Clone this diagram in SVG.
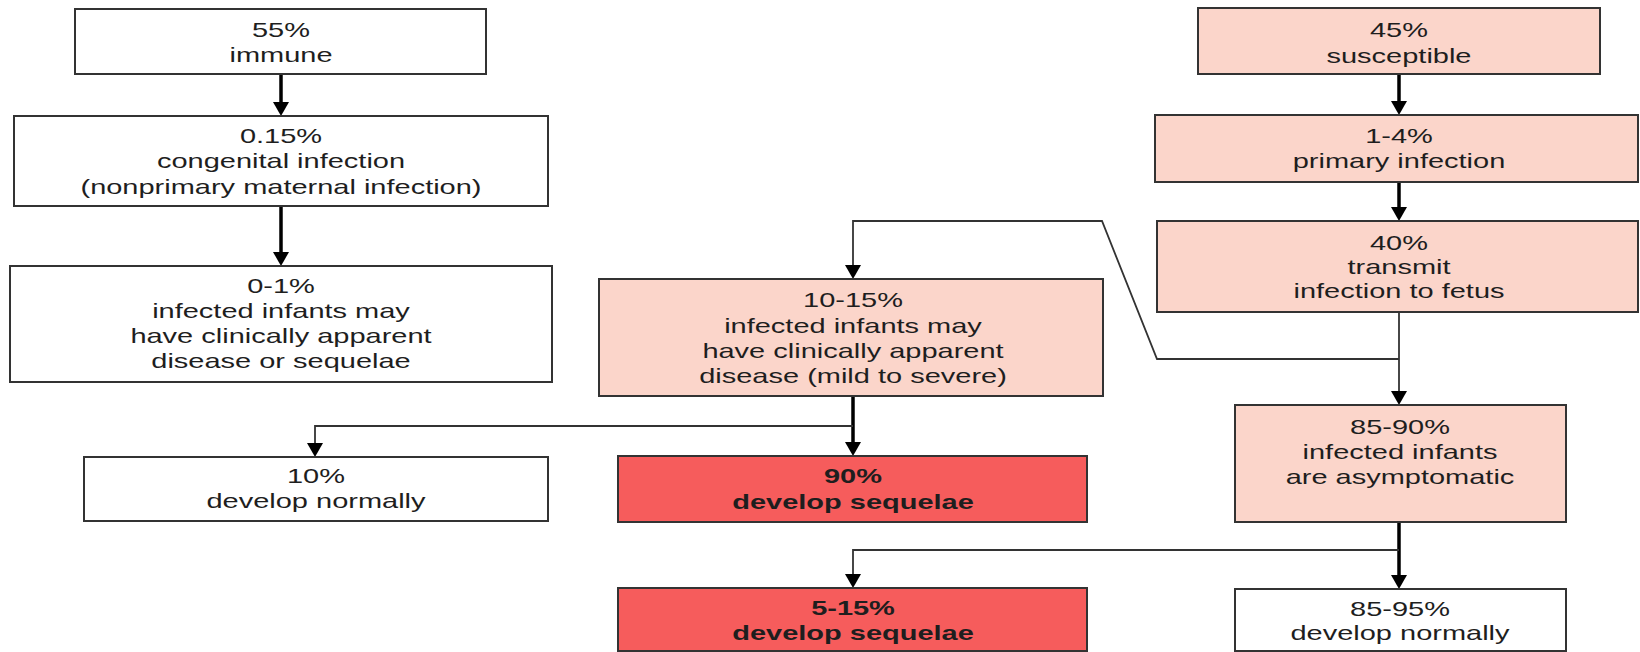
<svg xmlns="http://www.w3.org/2000/svg" width="1640" height="652" viewBox="0 0 1640 652">
<style>
.box{stroke:#333;stroke-width:2}
.w{fill:#ffffff}
.p{fill:#fbd5ca}
.r{fill:#f65c5c}
text{font-family:"Liberation Sans",Arial,sans-serif;font-size:20px;fill:#1e1e1e;text-anchor:middle}
.b text{font-weight:bold}
.thick{stroke:#000;stroke-width:3.5;fill:none}
.thin{stroke:#333;stroke-width:1.8;fill:none}
</style>
<defs>
<marker id="ah" viewBox="0 0 14 16" refX="8" refY="8" markerWidth="14" markerHeight="16" markerUnits="userSpaceOnUse" orient="auto">
<path d="M0,0 L14,8 L0,16 Z" fill="#000"/>
</marker>
</defs>
<rect width="1640" height="652" fill="#fff"/>

<g id="connectors">
<line class="thick" x1="281" y1="74" x2="281" y2="110" marker-end="url(#ah)"/>
<line class="thick" x1="281" y1="206" x2="281" y2="260" marker-end="url(#ah)"/>
<line class="thick" x1="1399" y1="74" x2="1399" y2="109" marker-end="url(#ah)"/>
<line class="thick" x1="1399" y1="182" x2="1399" y2="215" marker-end="url(#ah)"/>
<line class="thin" x1="1399" y1="312" x2="1399" y2="399" marker-end="url(#ah)"/>
<polyline class="thin" points="1399,359 1157,359 1102,221 853,221 853,273" marker-end="url(#ah)"/>
<line class="thick" x1="853" y1="396" x2="853" y2="450" marker-end="url(#ah)"/>
<polyline class="thin" points="853,426 315,426 315,451" marker-end="url(#ah)"/>
<line class="thick" x1="1399" y1="522" x2="1399" y2="583" marker-end="url(#ah)"/>
<polyline class="thin" points="1399,550 853,550 853,582" marker-end="url(#ah)"/>
</g>

<g id="immune">
<rect class="box w" x="75" y="9" width="411" height="65"/>
<g transform="translate(281,0) scale(1.45,1)"><text x="0" y="37">55%</text><text x="0" y="62">immune</text></g>
</g>

<g id="congenital">
<rect class="box w" x="14" y="116" width="534" height="90"/>
<g transform="translate(281,0) scale(1.45,1)"><text x="0" y="143">0.15%</text><text x="0" y="168">congenital infection</text><text x="0" y="194">(nonprimary maternal infection)</text></g>
</g>

<g id="nonprimary-outcome">
<rect class="box w" x="10" y="266" width="542" height="116"/>
<g transform="translate(281,0) scale(1.45,1)"><text x="0" y="293">0-1%</text><text x="0" y="318">infected infants may</text><text x="0" y="343">have clinically apparent</text><text x="0" y="368">disease or sequelae</text></g>
</g>

<g id="develop-normally-10">
<rect class="box w" x="84" y="457" width="464" height="64"/>
<g transform="translate(316,0) scale(1.45,1)"><text x="0" y="483">10%</text><text x="0" y="508">develop normally</text></g>
</g>

<g id="susceptible">
<rect class="box p" x="1198" y="8" width="402" height="66"/>
<g transform="translate(1399,0) scale(1.45,1)"><text x="0" y="37">45%</text><text x="0" y="63">susceptible</text></g>
</g>

<g id="primary-infection">
<rect class="box p" x="1155" y="115" width="483" height="67"/>
<g transform="translate(1399,0) scale(1.45,1)"><text x="0" y="143">1-4%</text><text x="0" y="168">primary infection</text></g>
</g>

<g id="transmit">
<rect class="box p" x="1157" y="221" width="481" height="91"/>
<g transform="translate(1399,0) scale(1.45,1)"><text x="0" y="250">40%</text><text x="0" y="274">transmit</text><text x="0" y="298">infection to fetus</text></g>
</g>

<g id="symptomatic">
<rect class="box p" x="599" y="279" width="504" height="117"/>
<g transform="translate(853,0) scale(1.45,1)"><text x="0" y="307">10-15%</text><text x="0" y="333">infected infants may</text><text x="0" y="358">have clinically apparent</text><text x="0" y="383">disease (mild to severe)</text></g>
</g>

<g id="sequelae-90" class="b">
<rect class="box r" x="618" y="456" width="469" height="66"/>
<g transform="translate(853,0) scale(1.45,1)"><text x="0" y="483">90%</text><text x="0" y="509">develop sequelae</text></g>
</g>

<g id="asymptomatic">
<rect class="box p" x="1235" y="405" width="331" height="117"/>
<g transform="translate(1400,0) scale(1.45,1)"><text x="0" y="434">85-90%</text><text x="0" y="459">infected infants</text><text x="0" y="484">are asymptomatic</text></g>
</g>

<g id="sequelae-5-15" class="b">
<rect class="box r" x="618" y="588" width="469" height="63"/>
<g transform="translate(853,0) scale(1.45,1)"><text x="0" y="615">5-15%</text><text x="0" y="640">develop sequelae</text></g>
</g>

<g id="develop-normally-85-95">
<rect class="box w" x="1235" y="589" width="331" height="62"/>
<g transform="translate(1400,0) scale(1.45,1)"><text x="0" y="616">85-95%</text><text x="0" y="640">develop normally</text></g>
</g>
</svg>
